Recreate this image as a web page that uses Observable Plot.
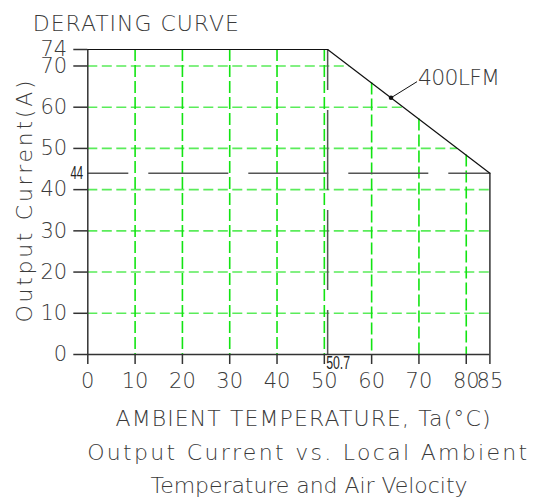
<!DOCTYPE html>
<html>
<head>
<meta charset="utf-8">
<script src="https://cdn.jsdelivr.net/npm/d3@7"></script>
<script src="https://cdn.jsdelivr.net/npm/@observablehq/plot@0.6"></script>
<style>
  body { margin: 0; background: #fff; }
</style>
</head>
<body>
<div id="chart"></div>
<script>
// Derating curve breakpoints: ambient temperature (°C) vs. output current (A)
const curveTemp = [0, 50.7, 85];
const curveCurrent = [74, 74, 44];

// Axis ticks and grid positions
const xTicks = [0, 10, 20, 30, 40, 50, 60, 70, 80, 85];
const yTicks = [0, 10, 20, 30, 40, 50, 60, 70, 74];
const xGrid = [10, 20, 30, 40, 50, 60, 70, 80];
const yGrid = [10, 20, 30, 40, 50, 60, 70];

// Reference values called out on the chart
const kneeTemp = 50.7;
const minCurrent = 44;

// Airflow callout
const airflowLabel = "400LFM";
const airflowPointTemp = 64.1;
const airflowLabelTemp = 69.8;
const airflowLabelCurrent = 67.1;

// Texts
const title = "DERATING CURVE";
const yLabel = "Output Current(A)";
const xLabel = "AMBIENT TEMPERATURE, Ta(°C)";
const caption1 = "Output Current vs. Local Ambient";
const caption2 = "Temperature and Air Velocity";

// Current along the derating curve at temperature t
function currentAt(t) {
  for (let i = 0; i < curveTemp.length - 1; ++i) {
    if (t <= curveTemp[i + 1]) {
      const f = (t - curveTemp[i]) / (curveTemp[i + 1] - curveTemp[i]);
      return curveCurrent[i] + f * (curveCurrent[i + 1] - curveCurrent[i]);
    }
  }
  return curveCurrent[curveCurrent.length - 1];
}
// Temperature where the sloped part of the curve reaches current a
function tempAt(a) {
  const n = curveTemp.length - 1;
  if (a <= curveCurrent[n]) return curveTemp[n];
  const f = (a - curveCurrent[n - 1]) / (curveCurrent[n] - curveCurrent[n - 1]);
  return curveTemp[n - 1] + f * (curveTemp[n] - curveTemp[n - 1]);
}

const curve = curveTemp.map((t, i) => ({t, a: curveCurrent[i]}));
const airflowPoint = {t: airflowPointTemp, a: currentAt(airflowPointTemp)};

const font = "'DejaVu Sans', sans-serif";
const narrow = "'Liberation Sans Narrow', 'Liberation Sans', sans-serif";
const ink = "#3a3a3a";
const axisInk = "#333";

const chart = Plot.plot({
  width: 539,
  height: 502,
  marginLeft: 87.3,
  marginRight: 49.6,
  marginTop: 49,
  marginBottom: 148,
  style: {fontFamily: font, fontWeight: 200, color: ink, background: "#fff", overflow: "visible"},
  x: {domain: [0, 85]},
  y: {domain: [0, 74]},
  marks: [
    // green grid, clipped beneath the curve
    Plot.ruleY(yGrid, {x1: 0, x2: d => tempAt(d), stroke: "#5aec5a", strokeWidth: 1.6, strokeDasharray: "10,4.5"}),
    Plot.ruleX(xGrid, {y1: d => currentAt(d), y2: 0, stroke: "#12e412", strokeWidth: 1.6, strokeDasharray: "12,4"}),
    // reference lines at the knee temperature and the minimum current
    Plot.ruleY([minCurrent], {x1: 0, x2: curveTemp[2], stroke: "#555", strokeWidth: 1.5, strokeDasharray: "80,20", strokeDashoffset: 39}),
    Plot.ruleX([kneeTemp], {y1: curveCurrent[0], y2: 0, stroke: "#555", strokeWidth: 1.5, strokeDasharray: "80,20", strokeDashoffset: 39}),
    // frame lines
    Plot.ruleY([0], {stroke: axisInk, strokeWidth: 1.5}),
    Plot.ruleX([0], {y1: 0, y2: curveCurrent[0], stroke: axisInk, strokeWidth: 1.5}),
    Plot.ruleX([curveTemp[2]], {y1: 0, y2: curveCurrent[2], stroke: axisInk, strokeWidth: 1.5}),
    // derating curve
    Plot.line(curve, {x: "t", y: "a", stroke: "#111", strokeWidth: 1.2}),
    // axes
    Plot.axisY(yTicks, {tickSize: 14, tickPadding: 6.6, fontSize: 21, stroke: axisInk, strokeWidth: 1.5, tickFormat: d => d, label: null}),
    Plot.axisX(xTicks, {tickSize: 10, tickPadding: 9, fontSize: 21, stroke: axisInk, strokeWidth: 1.5, tickFormat: d => d, label: null}),
    // value callouts
    Plot.text([minCurrent], {x: 0, y: d => d, text: d => String(d), dx: -17.3, textAnchor: "start", fontSize: 18.5, fontFamily: narrow, fontWeight: "normal", fill: "#222", className: "lbl-min"}),
    Plot.text([kneeTemp], {x: d => d, y: 0, text: d => String(d), dx: -1.5, dy: 2, textAnchor: "start", lineAnchor: "top", fontSize: 18, fontFamily: narrow, fontWeight: "normal", fill: "#222", className: "lbl-knee"}),
    // airflow callout
    Plot.link([airflowPoint], {x1: "t", y1: "a", x2: () => airflowLabelTemp - 0.2, y2: () => airflowLabelCurrent - 0.9, stroke: "#111", strokeWidth: 1}),
    Plot.dot([airflowPoint], {x: "t", y: "a", r: 2.3, fill: "#111"}),
    Plot.text([airflowLabel], {x: airflowLabelTemp, y: airflowLabelCurrent, text: d => d, textAnchor: "start", fontSize: 22, fill: ink, className: "lbl-airflow"}),
    // titles
    Plot.text([title], {frameAnchor: "top-left", dx: -55, dy: -33.7, text: d => d, textAnchor: "start", fontSize: 22, fill: ink, className: "lbl-title"}),
    Plot.text([yLabel], {frameAnchor: "left", dx: -63.3, dy: 120.5, rotate: -90, text: d => d, textAnchor: "start", fontSize: 22, fill: ink, className: "lbl-y"}),
    Plot.text([xLabel], {frameAnchor: "bottom-left", dx: 27.7, dy: 71.5, text: d => d, textAnchor: "start", fontSize: 22, fill: ink, className: "lbl-x"}),
    Plot.text([caption1], {frameAnchor: "bottom-left", dx: -0.6, dy: 105, text: d => d, textAnchor: "start", fontSize: 22, fill: ink, className: "lbl-cap1"}),
    Plot.text([caption2], {frameAnchor: "bottom-left", dx: 62.7, dy: 138.5, text: d => d, textAnchor: "start", fontSize: 22, fill: ink, className: "lbl-cap2"})
  ]
});

// Stretch the lettering to the wide, evenly spaced drafting style
const spans = {"lbl-title": 206, "lbl-y": 242, "lbl-x": 375, "lbl-cap1": 440, "lbl-cap2": 317, "lbl-airflow": 82};
for (const [cls, len] of Object.entries(spans)) {
  d3.select(chart).selectAll(`.${cls} text`).attr("textLength", len).attr("lengthAdjust", "spacing");
}
// Condensed figures for the small value callouts
d3.select(chart).selectAll(".lbl-min text").attr("textLength", 12.7).attr("lengthAdjust", "spacingAndGlyphs");
d3.select(chart).selectAll(".lbl-knee text").attr("textLength", 24).attr("lengthAdjust", "spacingAndGlyphs");

document.getElementById("chart").appendChild(chart);
</script>
</body>
</html>
